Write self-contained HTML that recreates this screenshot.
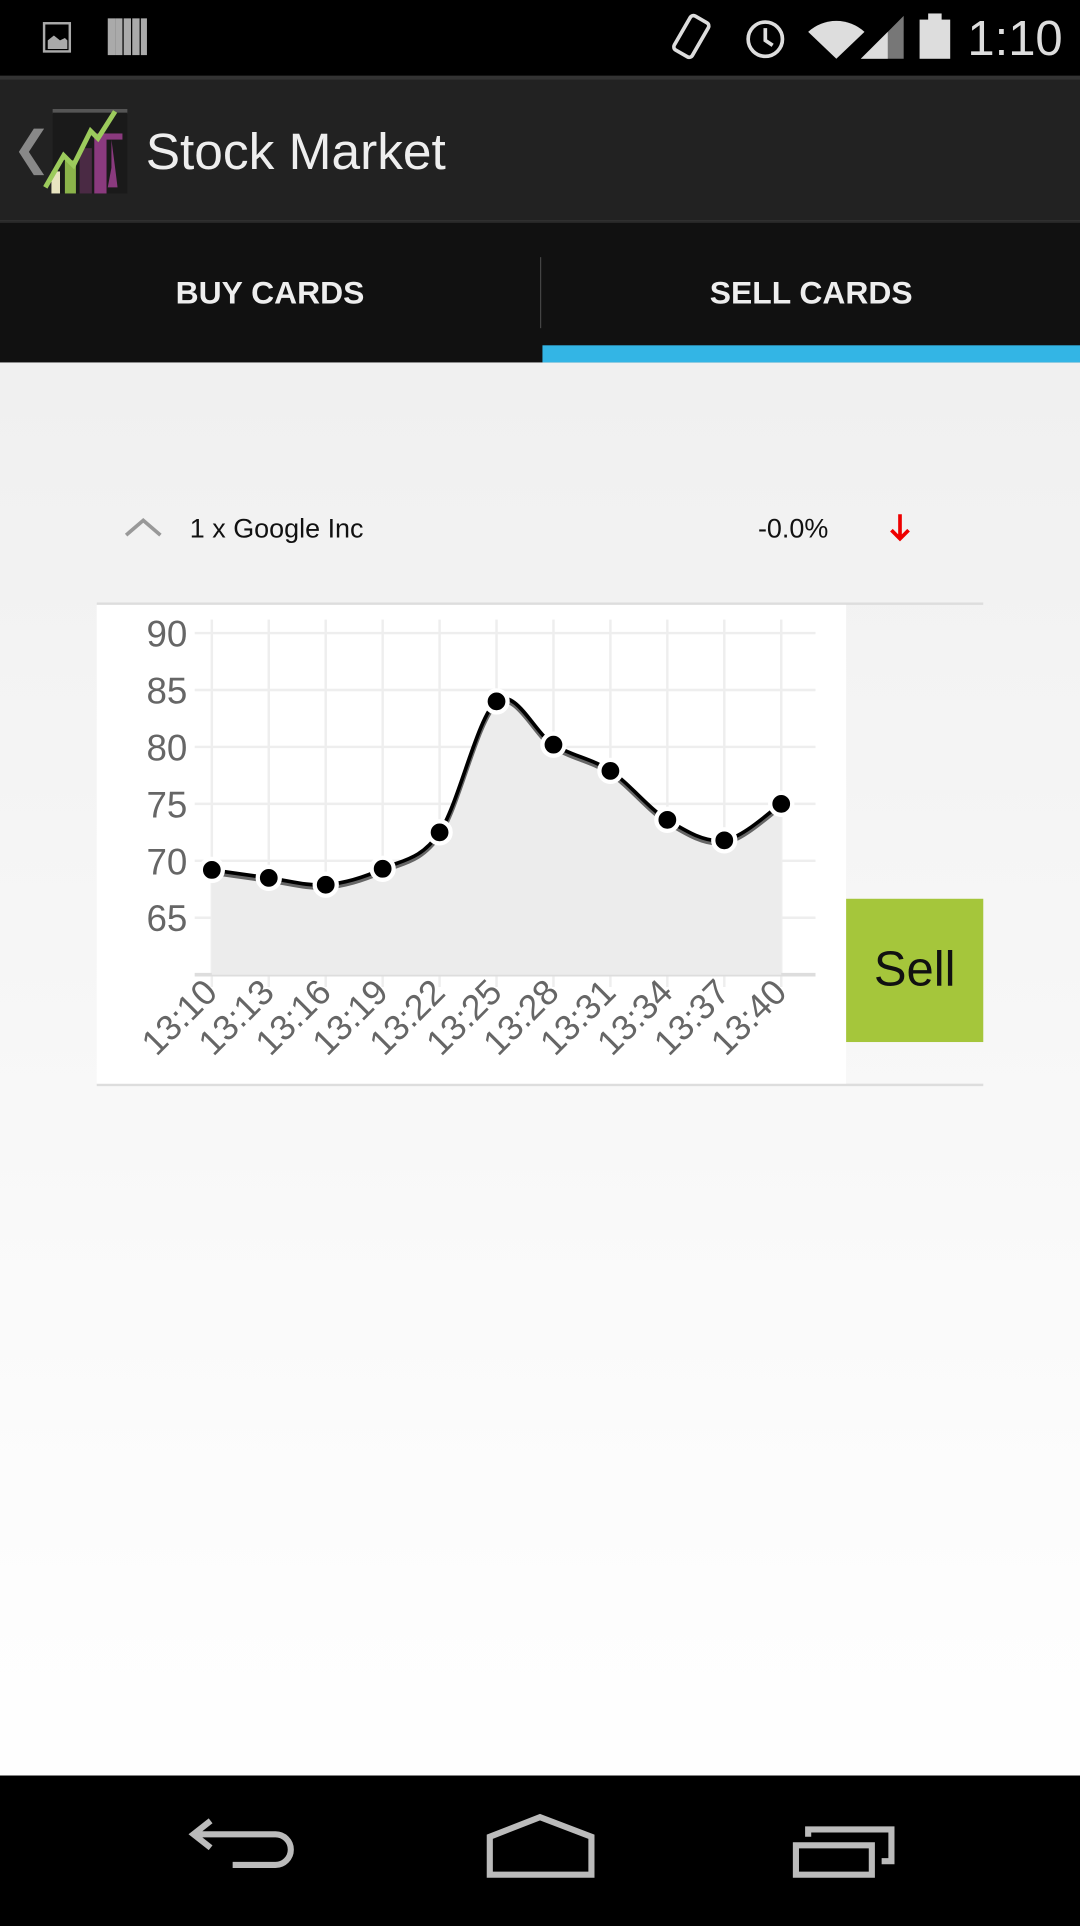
<!DOCTYPE html>
<html><head><meta charset="utf-8">
<style>
html,body{margin:0;padding:0;width:1080px;height:1920px;overflow:hidden;background:#000}
#root{position:absolute;left:0;top:0;width:882px;height:1568px;transform:scale(1.2244898);transform-origin:0 0;font-family:"Liberation Sans",sans-serif;background:linear-gradient(#f0f0f0 300px,#fdfdfd 1300px,#fff)}
.abs{position:absolute}
</style></head><body>
<div id="root">
  <div class="abs" style="left:0;top:0;width:882px;height:62px;background:#000">
    <svg width="882" height="62">
      <rect x="36" y="19" width="21" height="23" fill="none" stroke="#aaa" stroke-width="2"/>
      <path d="M39 40 L39 33 L44 29 L49 33 L53 31 L55 33 L55 40Z" fill="#aaa"/>
      <g fill="#aaa"><rect x="108" y="15" width="6" height="30"/><rect x="115" y="15" width="5" height="30"/><rect x="101" y="15" width="6" height="30"/><rect x="88" y="15" width="6" height="30"/><rect x="94" y="15" width="6" height="30"/></g>
      <rect x="556" y="14" width="17" height="32" rx="3" fill="none" stroke="#ddd" stroke-width="3" transform="rotate(30 565 30)"/>
      <circle cx="625" cy="32" r="14" fill="none" stroke="#ddd" stroke-width="3"/>
      <path d="M625 23 L625 33 L631 37" fill="none" stroke="#ddd" stroke-width="3"/>
      <path d="M660 26 A34 34 0 0 1 706 26 L683 48Z" fill="#ddd"/>
      <path d="M703 48 L738 13 L738 48Z" fill="#777"/><path d="M703 48 L725 26 L725 48Z" fill="#ddd"/>
      <rect x="751" y="16" width="25" height="32" fill="#ddd"/><rect x="758" y="11" width="11" height="6" fill="#ddd"/>
    </svg>
    <div class="abs" style="left:790px;top:10px;color:#ddd;font-size:40px">1:10</div>
  </div>
  <div class="abs" style="left:0;top:62px;width:882px;height:118px;background:#222;border-top:3px solid #333;box-sizing:border-box">
    <div class="abs" style="left:10px;top:34px;color:#888;font-size:38px">❮</div>
    <svg class="abs" style="left:34px;top:22px" width="72" height="76">
      <rect x="9" y="2" width="61" height="4" fill="#555"/>
      <rect x="9" y="5" width="61" height="66" fill="#1a1a1a"/>
      <rect x="8" y="53" width="7" height="18" fill="#e8e4c0"/><rect x="19" y="44" width="9" height="27" fill="#8bb34a"/>
      <rect x="31" y="34" width="10" height="37" fill="#4a2a44"/><rect x="43" y="22" width="10" height="49" fill="#8a3a7e"/><rect x="43" y="22" width="23" height="5" fill="#8a3a7e"/>
      <path d="M57 27 L57 50 L54 66 L62 66 L60 50Z" fill="#8a3a7e"/>
      <path d="M3 66 L18 40 L26 48 L40 20 L46 26 L60 4" fill="none" stroke="#9ccb5c" stroke-width="4"/>
    </svg>
    <div class="abs" style="left:119px;top:35px;color:#eee;font-size:42px">Stock Market</div>
  </div>
  <div class="abs" style="left:0;top:180px;width:882px;height:116px;background:#111;border-top:2px solid #2a2a2a;box-sizing:border-box">
    <div class="abs" style="left:0;top:0;width:441px;height:114px;line-height:114px;text-align:center;color:#eee;font-weight:bold;font-size:26px">BUY CARDS</div>
    <div class="abs" style="left:441px;top:28px;width:1px;height:58px;background:#444"></div>
    <div class="abs" style="left:443px;top:0;width:439px;height:114px;line-height:114px;text-align:center;color:#eee;font-weight:bold;font-size:26px">SELL CARDS</div>
    <div class="abs" style="left:443px;top:100px;width:439px;height:14px;background:#33b5e5"></div>
  </div>
  <svg class="abs" style="left:100px;top:420px" width="34" height="20"><path d="M3 17 L17 5 L31 17" fill="none" stroke="#999" stroke-width="3"/></svg>
  <div class="abs" style="left:155px;top:419px;font-size:22px;color:#111">1 x Google Inc</div>
  <div class="abs" style="left:619px;top:419px;font-size:22px;color:#111">-0.0%</div>
  <svg class="abs" style="left:725px;top:418px" width="20" height="26"><path d="M10 2 L10 22 M3 15 L10 22 L17 15" fill="none" stroke="#e00" stroke-width="3"/></svg>
  <div class="abs" style="left:79px;top:492px;width:724px;height:2px;background:#ddd"></div>
  <div class="abs" style="left:79px;top:885px;width:724px;height:2px;background:#ddd"></div>
  <svg id="chart" class="abs" style="left:79px;top:494px;background:#fff" width="612" height="391"></svg>
  <div class="abs" style="left:691px;top:734px;width:112px;height:117px;background:#a5c63b;color:#111;font-size:40px;line-height:117px;text-align:center">Sell</div>
  <div class="abs" style="left:0;top:1450px;width:882px;height:118px;background:#000">
    <svg width="882" height="118">
      <path d="M172 37 L158 48 L172 59 M158 48 L225 48 A10 10 0 0 1 225 73 L190 73" fill="none" stroke="#bbb" stroke-width="5"/>
      <path d="M400 50 L441 34 L483 50 L483 81 L400 81Z" fill="none" stroke="#bbb" stroke-width="5"/>
      <g fill="none" stroke="#bbb" stroke-width="5"><rect x="650" y="57" width="62" height="24"/><path d="M660 50 L660 44 L728 44 L728 70 L720 70"/></g>
    </svg>
  </div>
</div>
<script>
const categories=["13:10","13:13","13:16","13:19","13:22","13:25","13:28","13:31","13:34","13:37","13:40"];
const prices=[69.2,68.5,67.9,69.3,72.5,84.0,80.2,77.9,73.6,71.8,75.0];
const yTicks=[65,70,75,80,85,90];
const NS="http://www.w3.org/2000/svg";
const svg=document.getElementById('chart');
const x0=94,step=46.5,yMin=60,yMax=90,yTop=23,yBot=302;
const xs=i=>x0+i*step;
const ys=v=>yBot-(v-yMin)/(yMax-yMin)*(yBot-yTop);
function mk(t,a){const e=document.createElementNS(NS,t);for(const k in a)e.setAttribute(k,a[k]);svg.appendChild(e);return e;}
yTicks.forEach(v=>{
  const g=mk('line',{x1:80,x2:587,y1:ys(v),y2:ys(v),stroke:'#eee','stroke-width':2});
  
  
  const t=mk('text',{x:74,y:ys(v)+11,'text-anchor':'end','font-size':30,fill:'#666','font-family':'Liberation Sans, sans-serif'});
  t.textContent=v;
  
  
});
categories.forEach((c,i)=>{
  const g=mk('line',{x1:xs(i),x2:xs(i),y1:12,y2:312,stroke:'#eee','stroke-width':2});
  
  
  const t=mk('text',{x:0,y:0,'text-anchor':'end','font-size':29,fill:'#666','font-family':'Liberation Sans, sans-serif',transform:`translate(${xs(i)+6},${318}) rotate(-45)`});
  t.textContent=c;
  
  
});
const axis=mk('line',{x1:80,x2:587,y1:yBot,y2:yBot,stroke:'#ddd','stroke-width':3});


const P=prices.map((v,i)=>[xs(i),ys(v)]);
let d=`M${P[0][0]},${P[0][1]}`;
for(let i=0;i<P.length-1;i++){
  const p0=P[i-1]||P[i],p1=P[i],p2=P[i+1],p3=P[i+2]||P[i+1];
  const c1=[p1[0]+(p2[0]-p0[0])/6,p1[1]+(p2[1]-p0[1])/6],c2=[p2[0]-(p3[0]-p1[0])/6,p2[1]-(p3[1]-p1[1])/6];
  d+=` C${c1[0]},${c1[1]} ${c2[0]},${c2[1]} ${p2[0]},${p2[1]}`;
}
const area=mk('path',{d:d+` L${P[P.length-1][0]},${yBot} L${P[0][0]},${yBot}Z`,fill:'#ececec'});


const sh=mk('path',{d:d,fill:'none',stroke:'#666','stroke-width':4,transform:'translate(0,2)'});


const line=mk('path',{d:d,fill:'none',stroke:'#000','stroke-width':3});


P.forEach(p=>{
  const c=mk('circle',{cx:p[0],cy:p[1],r:9,fill:'#000',stroke:'#fff','stroke-width':3.5});
  
  
});
</script>
</body></html>
